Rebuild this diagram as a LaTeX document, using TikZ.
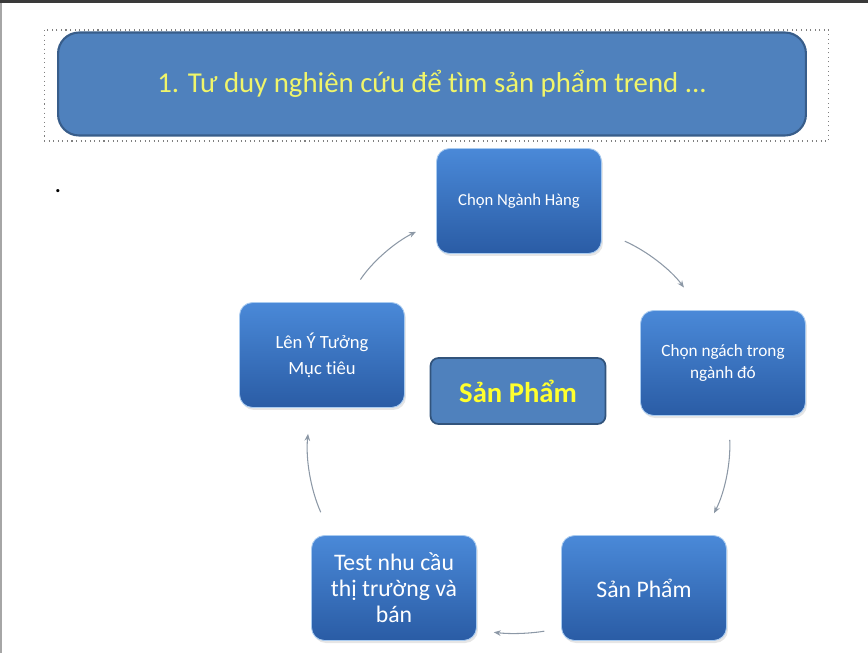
\documentclass[tikz,border=0pt]{standalone}
\usepackage{fontspec}
\setmainfont{Carlito}[Ligatures=NoCommon]
\usetikzlibrary{arrows.meta}
\usetikzlibrary{shadows}
\definecolor{office_blue}{HTML}{4F81BD}
\definecolor{office_edge}{HTML}{385D8A}
\definecolor{box_top}{HTML}{4A89D8}
\definecolor{box_bottom}{HTML}{2A5CA5}
\definecolor{box_rim}{HTML}{A9CBF0}
\definecolor{title_yellow}{HTML}{F0F56A}
\definecolor{core_yellow}{HTML}{FFFF2E}
\definecolor{arrow_gray}{HTML}{8C98A6}
\definecolor{window_dark}{HTML}{3A3A3A}

\begin{document}
\begin{tikzpicture}[
        x=0.02cm, y=0.02cm,
        stepbox/.style={rectangle, rounded corners=0.26cm, minimum width=3.3cm, minimum height=2.1cm, draw=box_rim, line width=0.5pt, top color=box_top, bottom color=box_bottom, text=white, align=center, drop shadow={opacity=0.2, shadow xshift=0.03cm, shadow yshift=-0.05cm}},
        smalltext/.style={font=\fontsize{9.8}{12.5}\selectfont},
        bigtext/.style={font=\fontsize{13.5}{14.8}\selectfont},
        corebox/.style={rectangle, rounded corners=0.16cm, minimum width=3.5cm, minimum height=1.32cm, draw=office_edge!90!black, line width=1pt, fill=office_blue, text=core_yellow, font=\bfseries\fontsize{16.3}{18}\selectfont},
        headbox/.style={rectangle, rounded corners=0.42cm, minimum width=14.96cm, minimum height=2.06cm, draw=office_edge, line width=1.2pt, fill=office_blue, text=title_yellow, font=\fontsize{16.4}{19}\selectfont},
        flow/.style={-{Stealth[length=4pt, width=3.2pt]}, draw=arrow_gray, line width=0.6pt},
    ]
        \useasboundingbox (0,0) rectangle (868,-653);
        % window frame
        \fill[window_dark] (0,0) rectangle (868,-3);
        \draw[gray!70, line width=0.8pt] (1,-3) -- (1,-653);

        \node[draw=gray, dotted, line width=0.6pt, minimum width=15.7cm, minimum height=2.22cm] (headframe) at (436.5,-85.5) {};
        \node[headbox] (heading) at (432,-84) {1. Tư duy nghiên cứu để tìm sản phẩm trend ...};
        \node[font=\bfseries\fontsize{12}{14}\selectfont] (dot) at (58,-191) {.};

        \node[stepbox, smalltext, font=\fontsize{9.5}{12.5}\selectfont] (industry) at (519,-201) {Chọn Ngành Hàng};
        \node[stepbox, smalltext] (niche) at (723,-363) {Chọn ngách trong\\ngành đó};
        \node[stepbox, bigtext] (product) at (644,-588) {Sản Phẩm};
        \node[stepbox, bigtext] (market) at (394,-588) {Test nhu cầu\\thị trường và\\bán};
        \node[stepbox, font=\fontsize{10.6}{14.7}\selectfont] (idea) at (322,-355) {Lên Ý Tưởng\\Mục tiêu};
        \node[corebox] (core) at (518,-391) {Sản Phẩm};

        \draw [flow, shorten <=0.5cm, shorten >=0.56cm] (industry.-20) to[bend left=15] (niche.113);
        \draw [flow, shorten <=0.48cm, shorten >=0.49cm] (niche.-84) to[bend left=15] (product.42);
        \draw [flow, shorten <=0.34cm, shorten >=0.34cm] (product.206) to[bend left=8] (market.-27);
        \draw [flow, shorten <=0.5cm, shorten >=0.52cm] (market.140) to[bend left=15] (idea.-102);
        \draw [flow, shorten <=0.54cm, shorten >=0.45cm] (idea.66) to[bend left=15] (industry.194);
\end{tikzpicture}
\end{document}
